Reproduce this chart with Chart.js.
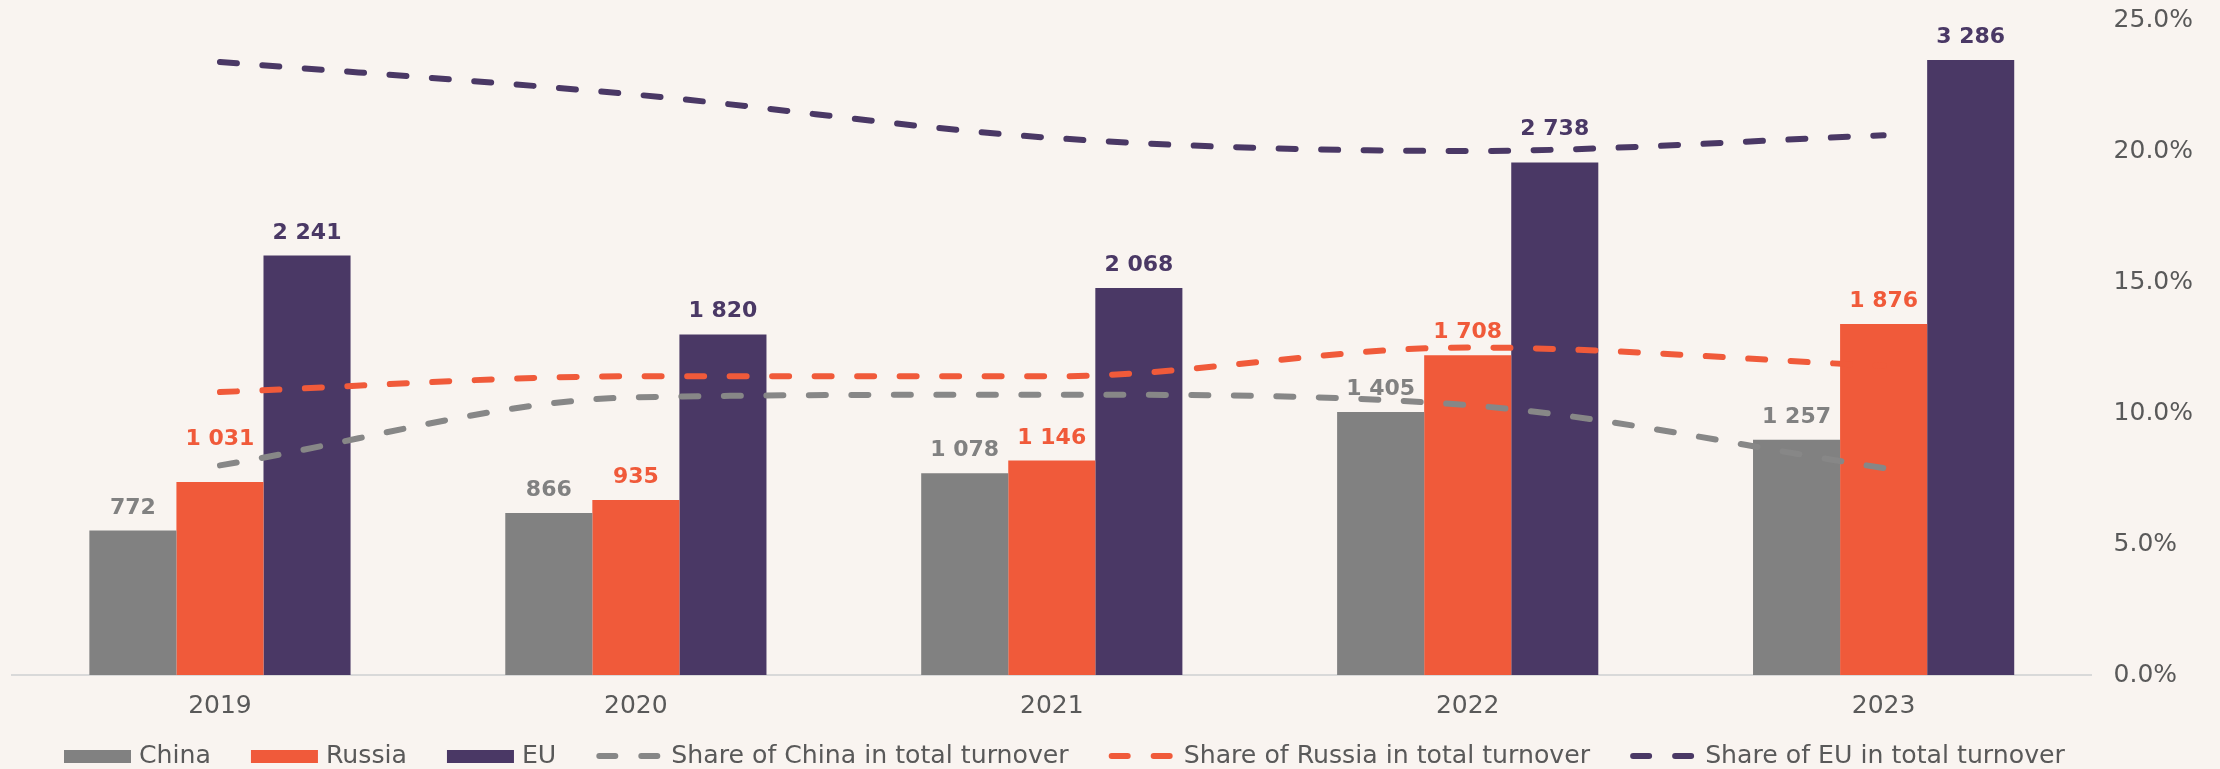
<!DOCTYPE html>
<html>
<head>
<meta charset="utf-8">
<script src="https://cdn.jsdelivr.net/npm/chart.js@4"></script>
<style>
  html, body { margin: 0; padding: 0; background: #f9f4f0; }
  #wrap { width: 2220px; height: 769px; position: relative; }
</style>
</head>
<body>
<div id="wrap"><canvas id="chart"></canvas></div>
<script>
const years = ['2019', '2020', '2021', '2022', '2023'];
const chinaTurnover = [772, 866, 1078, 1405, 1257];
const russiaTurnover = [1031, 935, 1146, 1708, 1876];
const euTurnover = [2241, 1820, 2068, 2738, 3286];
const chinaShare = [8.0, 10.6, 10.7, 10.3, 7.9];
const russiaShare = [10.8, 11.4, 11.4, 12.5, 11.8];
const euShare = [23.4, 22.15, 20.5, 20.0, 20.6];
const shareTicks = [0, 5, 10, 15, 20, 25];

const GREY = '#818181';
const ORANGE = '#f05a3a';
const PURPLE = '#4a3865';
const TEXT = '#595959';
const FONT = '"DejaVu Sans", sans-serif';

const fmt = v => String(v).replace(/\B(?=(\d{3})+(?!\d))/g, ' ');

// fond de la toile
const background = {
  id: 'background',
  beforeDraw(chart) {
    const { ctx, width, height } = chart;
    ctx.save();
    ctx.fillStyle = '#f9f4f0';
    ctx.fillRect(0, 0, width, height);
    ctx.restore();
  }
};

// valeurs au-dessus des barres; deux étiquettes remontées pour éviter les courbes
const labelLift = { 'Russia:0': 20, 'EU:3': 11 };
const valueLabels = {
  id: 'valueLabels',
  afterDatasetsDraw(chart) {
    const ctx = chart.ctx;
    ctx.save();
    ctx.font = 'bold 22px ' + FONT;
    ctx.textAlign = 'center';
    ctx.textBaseline = 'alphabetic';
    chart.data.datasets.forEach((ds, i) => {
      if (ds.type !== 'bar') return;
      const meta = chart.getDatasetMeta(i);
      ctx.fillStyle = ds.labelColor;
      meta.data.forEach((bar, j) => {
        const lift = labelLift[ds.label + ':' + j] || 0;
        ctx.fillText(fmt(ds.data[j]), bar.x, bar.y - 17 - lift);
      });
    });
    ctx.restore();
  }
};

// légende maison (espacements du modèle)
const bottomLegend = {
  id: 'bottomLegend',
  afterDraw(chart) {
    const ctx = chart.ctx;
    ctx.save();
    ctx.font = '25.2px ' + FONT;
    ctx.textBaseline = 'middle';
    const y = 756;
    let x = 64;
    chart.data.datasets.forEach(ds => {
      if (ds.type === 'bar') {
        ctx.fillStyle = ds.backgroundColor;
        ctx.fillRect(x, y - 6, 67, 13);
      } else {
        ctx.strokeStyle = ds.borderColor;
        ctx.lineWidth = 6;
        ctx.lineCap = 'round';
        ctx.setLineDash([16, 26]);
        ctx.beginPath();
        ctx.moveTo(x + 3, y);
        ctx.lineTo(x + 64, y);
        ctx.stroke();
        ctx.setLineDash([]);
      }
      ctx.fillStyle = TEXT;
      ctx.fillText(ds.label, x + 75, y);
      x += 75 + ctx.measureText(ds.label).width + 40;
    });
    ctx.restore();
  }
};

const barSet = (label, data, color) => ({
  type: 'bar', label, data, order: 1, yAxisID: 'y',
  backgroundColor: color, labelColor: color,
  categoryPercentage: 0.628, barPercentage: 1.0
});

const lineSet = (label, data, color) => ({
  type: 'line', label, data, order: 0, yAxisID: 'y1',
  borderColor: color, backgroundColor: color,
  borderWidth: 6, borderDash: [17, 25.5], borderCapStyle: 'round',
  pointRadius: 0, fill: false, cubicInterpolationMode: 'monotone'
});

new Chart(document.getElementById('chart'), {
  data: {
    labels: years,
    datasets: [
      barSet('China', chinaTurnover, GREY),
      barSet('Russia', russiaTurnover, ORANGE),
      barSet('EU', euTurnover, PURPLE),
      lineSet('Share of China in total turnover', chinaShare, '#878787'),
      lineSet('Share of Russia in total turnover', russiaShare, ORANGE),
      lineSet('Share of EU in total turnover', euShare, PURPLE)
    ]
  },
  options: {
    responsive: true,
    maintainAspectRatio: false,
    animation: false,
    layout: { padding: { left: 12, right: 24, top: 20, bottom: 32 } },
    plugins: {
      legend: { display: false },
      tooltip: { enabled: false }
    },
    scales: {
      x: {
        grid: { display: false, drawTicks: false },
        border: { color: '#d9d9d9', width: 2 },
        ticks: { color: TEXT, font: { family: FONT, size: 25 }, padding: 16 }
      },
      y: {
        display: false,
        min: 0, max: 3500
      },
      y1: {
        position: 'right',
        min: shareTicks[0], max: shareTicks[shareTicks.length - 1],
        grid: { display: true, drawOnChartArea: false, drawTicks: true, tickLength: 19, tickColor: 'transparent' },
        border: { display: false },
        afterBuildTicks: axis => { axis.ticks = shareTicks.map(v => ({ value: v })); },
        ticks: {
          color: TEXT, font: { family: FONT, size: 25 }, padding: 3,
          callback: v => v.toFixed(1) + '%'
        }
      }
    }
  },
  plugins: [background, valueLabels, bottomLegend]
});
</script>
</body>
</html>
